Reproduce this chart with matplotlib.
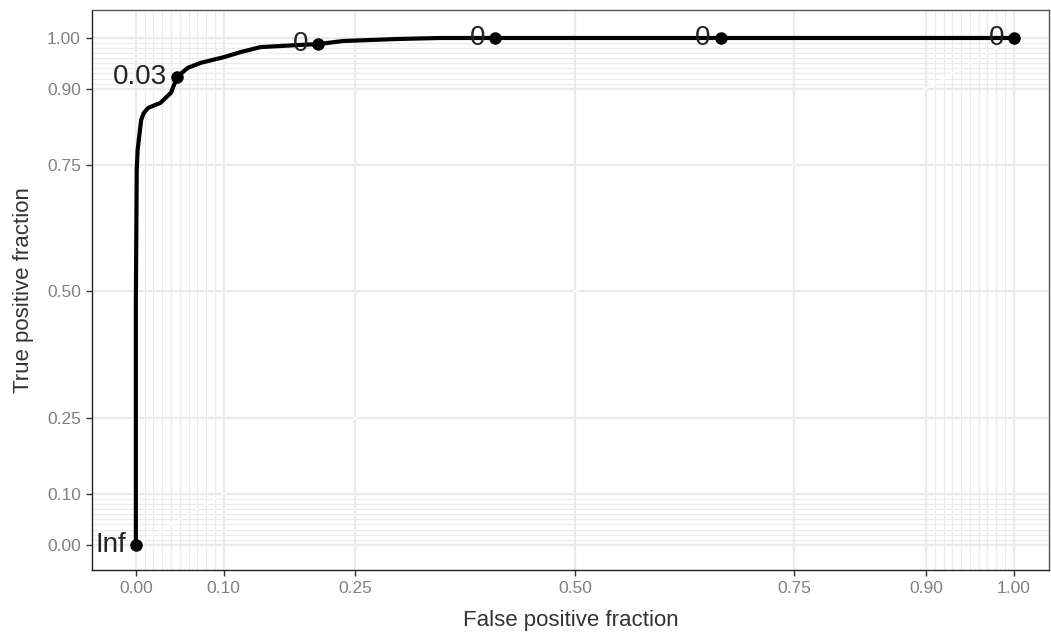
import matplotlib
matplotlib.use('Agg')
import matplotlib.pyplot as plt

# ROC curve
fpr = [0, 0, 0.001, 0.002, 0.006, 0.009, 0.014, 0.028, 0.040, 0.047, 0.059, 0.074,
       0.100, 0.119, 0.142, 0.184, 0.208, 0.236, 0.298, 0.347, 0.409, 0.666, 1.0]
tpr = [0, 0.483, 0.74, 0.779, 0.838, 0.852, 0.862, 0.872, 0.892, 0.923, 0.941, 0.951,
       0.962, 0.972, 0.982, 0.986, 0.988, 0.994, 0.998, 1.0, 1.0, 1.0, 1.0]

# cutoff labels
cut_fpr = [0, 0.047, 0.208, 0.409, 0.666, 1.0]
cut_tpr = [0, 0.923, 0.988, 1.0, 1.0, 1.0]
cut_lbl = ['Inf', '0.03', '0', '0', '0', '0']

breaks = [0, 0.1, 0.25, 0.5, 0.75, 0.9, 1.0]
break_lbl = ['0.00', '0.10', '0.25', '0.50', '0.75', '0.90', '1.00']
minor = [i / 100 for i in range(0, 11)] + [0.9 + i / 100 for i in range(0, 11)]

plt.rcParams['font.family'] = ['Liberation Sans', 'DejaVu Sans']

fig = plt.figure(figsize=(10.51, 6.32), dpi=100)
ax = fig.add_axes([0.0875, 0.098, 0.9105, 0.886])

ax.set_xlim(-0.05, 1.04)
ax.set_ylim(-0.05, 1.055)

ax.set_xticks(breaks)
ax.set_xticklabels(break_lbl)
ax.set_yticks(breaks)
ax.set_yticklabels(break_lbl)
ax.set_xticks(minor, minor=True)
ax.set_yticks(minor, minor=True)

ax.grid(True, which='major', color='#ebebeb', linewidth=1.6, zorder=0)
ax.grid(True, which='minor', color='#ebebeb', linewidth=0.8, zorder=0)
ax.set_axisbelow(True)

ax.tick_params(which='major', length=4, width=1, color='#333333',
               labelcolor='#808080', labelsize=12.5, pad=4)
ax.tick_params(which='minor', length=0)
for s in ax.spines.values():
    s.set_color('#555555')
    s.set_linewidth(1)
ax.spines['left'].set_color('#222222')
ax.spines['bottom'].set_color('#222222')

# reference diagonal
ax.plot([0, 1], [0, 1], color='white', linewidth=1.2, zorder=1)

ax.plot(fpr, tpr, color='black', linewidth=3, zorder=3)
ax.plot(cut_fpr, cut_tpr, 'o', color='black', markersize=8, zorder=4)
for xv, yv, t in zip(cut_fpr, cut_tpr, cut_lbl):
    ax.annotate(t, (xv, yv), xytext=(-7, 0), textcoords='offset points',
                ha='right', va='center', fontsize=20, color='#222222', zorder=5)

ax.set_xlabel('False positive fraction', fontsize=16, color='#333333', labelpad=10)
ax.set_ylabel('True positive fraction', fontsize=16, color='#333333', labelpad=9)

fig.savefig('out.png', dpi=100)
